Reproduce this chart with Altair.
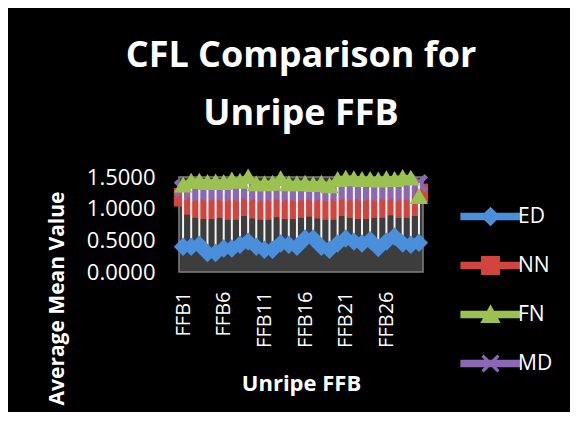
import altair as alt
import pandas as pd

categories = [f"FFB{i}" for i in range(1, 31)]
series_names = ["ED", "NN", "FN", "MD"]
ed = [0.40, 0.40, 0.43, 0.30, 0.30, 0.37, 0.37, 0.43, 0.48, 0.40,
      0.35, 0.35, 0.45, 0.43, 0.40, 0.53, 0.53, 0.40, 0.35, 0.45,
      0.53, 0.48, 0.45, 0.50, 0.38, 0.48, 0.56, 0.45, 0.43, 0.46]
nn = [1.18, 1.05, 1.00, 0.98, 1.02, 1.00, 0.97, 1.03, 1.05, 0.99,
      0.97, 1.01, 1.04, 0.98, 1.00, 1.02, 1.05, 0.99, 0.97, 1.03,
      1.04, 1.00, 0.98, 1.02, 1.00, 1.04, 1.05, 1.00, 1.03, 1.25]
fn = [1.38, 1.44, 1.44, 1.42, 1.43, 1.42, 1.46, 1.44, 1.51, 1.40,
      1.40, 1.41, 1.48, 1.40, 1.40, 1.41, 1.39, 1.41, 1.37, 1.47,
      1.49, 1.48, 1.47, 1.47, 1.46, 1.48, 1.47, 1.50, 1.49, 1.20]
md = [1.32, 1.27, 1.25, 1.28, 1.26, 1.27, 1.25, 1.28, 1.30, 1.26,
      1.25, 1.27, 1.28, 1.25, 1.27, 1.26, 1.28, 1.25, 1.26, 1.29,
      1.27, 1.26, 1.28, 1.25, 1.27, 1.29, 1.27, 1.26, 1.28, 1.40]
tick_labels = ["FFB1", "FFB6", "FFB11", "FFB16", "FFB21", "FFB26"]
y_ticks = [0, 0.5, 1, 1.5]
title_lines = ["CFL Comparison for", "Unripe FFB"]
colors = ["#4a8fdc", "#d0463f", "#9bc250", "#8a68b4"]

X_PATH = ("M-1,-0.62L-0.62,-1L0,-0.38L0.62,-1L1,-0.62L0.38,0L1,0.62L0.62,1"
          "L0,0.38L-0.62,1L-1,0.62L-0.38,0Z")
plot_shapes = ["diamond", "square", "triangle-up", X_PATH]

LINE = "M-4.3,-0.55H4.3V0.55H-4.3Z"
legend_shapes = [
    LINE + "M0,-1.4L1.4,0L0,1.4L-1.4,0Z",
    LINE + "M-1.35,-1.35H1.35V1.35H-1.35Z",
    LINE + "M0,-1.45L1.45,1.2H-1.45Z",
    LINE + "M-1.3,-0.98L-0.98,-1.3L0,-0.33L0.98,-1.3L1.3,-0.98L0.33,0L1.3,0.98"
           "L0.98,1.3L0,0.33L-0.98,1.3L-1.3,0.98L-0.33,0Z",
]

rows = []
for s, vals in zip(series_names, [ed, nn, fn, md]):
    for c, v in zip(categories, vals):
        rows.append({"cat": c, "series": s, "value": v})
df = pd.DataFrame(rows)

FONT = "Open Sans"

x_enc = alt.X(
    "cat:O", sort=categories,
    scale=alt.Scale(type="point", padding=0.5),
    axis=alt.Axis(
        title="Unripe FFB", values=tick_labels, labelAngle=-90,
        labelAlign="right", labelBaseline="middle", labelFontSize=20,
        labelColor="white", labelFont=FONT, ticks=False, domain=False,
        labelPadding=19, titleFontSize=22, titleFontWeight="bold",
        titleColor="white", titleFont=FONT, titleY=118,
        titleBaseline="alphabetic", labelOverlap=False,
    ),
)
y_axis = alt.Axis(
    values=y_ticks, tickCount=4, format=".4f", title="Average Mean Value",
    grid=False, ticks=False, domain=False, labelPadding=24,
    labelFontSize=22, labelColor="white", labelFont=FONT,
    labelOverlap=False, labelBound=False, labelFlush=False,
    titleFontSize=21, titleFontWeight="bold", titleColor="white",
    titleFont=FONT, titleX=-122, titleY=121, titleAngle=-90,
    titleAlign="center", titleBaseline="middle",
)
y_scale = alt.Scale(domain=[0, 1.5])
y_enc = alt.Y("value:Q", scale=y_scale, axis=y_axis)

color_scale = alt.Scale(domain=series_names, range=colors)
shape_scale = alt.Scale(domain=series_names, range=plot_shapes)

base = alt.Chart(df)

lines = base.mark_line(strokeWidth=5).encode(
    x=x_enc, y=y_enc,
    color=alt.Color("series:N", scale=color_scale, legend=None),
    detail="series:N",
)

pts_back = base.transform_filter(
    alt.FieldOneOfPredicate(field="series", oneOf=["NN", "MD"])
).mark_point(filled=True, size=340, opacity=1).encode(
    x=x_enc, y=y_enc,
    color=alt.Color("series:N", scale=color_scale, legend=None),
    shape=alt.Shape("series:N", scale=shape_scale, legend=None),
)

rules = base.transform_aggregate(
    lo="min(value)", hi="max(value)", groupby=["cat"]
).mark_rule(color="#f2f2f2", strokeWidth=2).encode(
    x=x_enc, y=alt.Y("lo:Q", scale=y_scale, axis=y_axis), y2="hi:Q",
)

pts_front = base.transform_filter(
    alt.FieldOneOfPredicate(field="series", oneOf=["ED", "FN"])
).mark_point(filled=True, size=340, opacity=1).encode(
    x=x_enc, y=y_enc,
    color=alt.Color("series:N", scale=color_scale, legend=None),
    shape=alt.Shape("series:N", scale=shape_scale, legend=None),
)

leg = alt.Legend(
    orient="none", legendX=301, legendY=29, title=None, symbolSize=196,
    symbolStrokeWidth=0, labelFontSize=21, labelColor="white",
    labelFont=FONT, rowPadding=27, labelOffset=17, padding=0,
)
legend_layer = base.transform_calculate(key="datum.series").transform_filter(
    "false"
).mark_point(filled=True, opacity=1).encode(
    x=x_enc, y=y_enc,
    color=alt.Color("key:N", scale=alt.Scale(domain=series_names, range=colors), legend=leg),
    shape=alt.Shape("key:N", scale=alt.Scale(domain=series_names, range=legend_shapes), legend=leg),
)

chart = alt.layer(lines, pts_back, rules, pts_front, legend_layer).resolve_scale(
    color="independent", shape="independent"
).properties(
    width=244, height=95,
    autosize=alt.AutoSizeParams(type="none"),
    padding={"left": 171, "top": 169, "right": 147, "bottom": 140},
    background="black",
    title=alt.TitleParams(
        text=title_lines, fontSize=36, fontWeight="bold", color="white",
        font=FONT, anchor="middle", frame="group", offset=0, dy=3,
        lineHeight=58, baseline="bottom",
    ),
).configure_view(
    fill="#3d3d3d", stroke="#808080", strokeWidth=1.5
).configure_axisY(labelOverlap=False)

chart.save("out.html", embed_options={"renderer": "svg", "actions": False})
